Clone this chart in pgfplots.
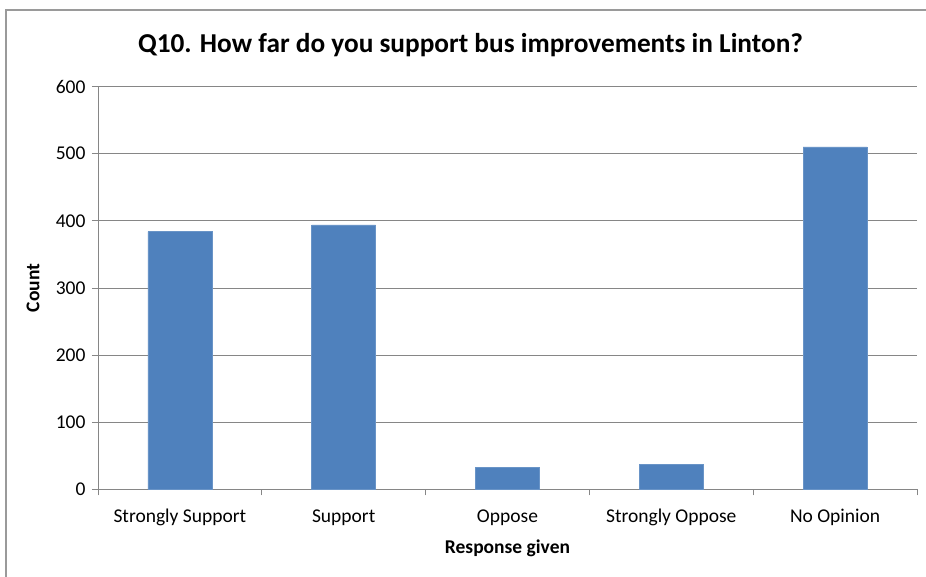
\documentclass[border=0pt]{standalone}
\usepackage{pgfplots}
\pgfplotsset{compat=1.18}
\usepackage{fontspec}
\setmainfont{Carlito}
\definecolor{barblue}{HTML}{4F81BD}
\definecolor{gridgray}{HTML}{868686}
\definecolor{framegray}{HTML}{9A9A9A}
\begin{document}
\begin{tikzpicture}
\useasboundingbox (-98pt,-87.5pt) rectangle (828pt,489.5pt);
% chart frame (right and bottom edges fall outside the picture)
\draw[framegray, line width=2pt] (-92pt,-87.5pt) -- (-92pt,479.5pt) -- (900pt,479.5pt);
\node[anchor=base, font=\fontsize{27.3}{32}\selectfont\bfseries] at (372.5pt,437pt)
  {Q10. How far do you support bus improvements in Linton?};
\begin{axis}[
    at={(0,0)}, anchor=south west,
    scale only axis,
    width=819pt, height=403pt,
    ybar, bar width=64pt,
    xmin=0.5, xmax=5.5,
    ymin=0, ymax=600,
    ytick={0,100,...,600},
    xtick={0.5,1.5,...,5.5},
    xticklabels={,,,,,},
    extra x ticks={1,2,3,4,5},
    extra x tick labels={Strongly Support, Support, Oppose, Strongly Oppose, No Opinion},
    extra x tick style={major tick length=0pt,
        xticklabel style={anchor=base, yshift=-33pt}},
    tick align=outside,
    major tick length=6pt,
    tick style={gridgray, line width=0.8pt},
    axis x line*=bottom,
    axis y line*=left,
    axis line style={gridgray, line width=0.8pt},
    ymajorgrids,
    grid style={gridgray, line width=0.8pt},
    ticklabel style={font=\fontsize{19.5}{23}\selectfont},
    yticklabel style={xshift=-3pt},
    /pgf/number format/assume math mode=true,
    xlabel={Response given},
    ylabel={Count},
    label style={font=\fontsize{19.5}{23}\selectfont\bfseries},
    xlabel style={at={(axis description cs:0.5,0)}, anchor=base, yshift=-64pt},
    ylabel style={at={([xshift=-65pt]axis description cs:0,0.5)}, anchor=center},
]
\addplot[fill=barblue, draw=barblue!85!white] coordinates {
    (1,384) (2,394) (3,33) (4,37) (5,510)
};
\end{axis}
\end{tikzpicture}
\end{document}
